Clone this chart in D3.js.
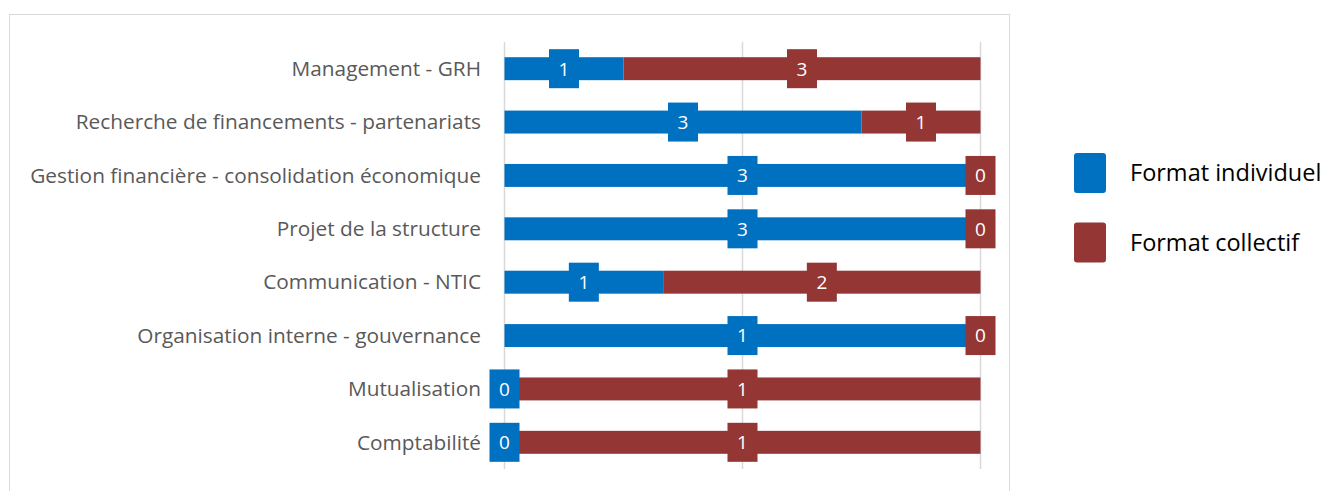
<!DOCTYPE html>
<html>
<head>
<meta charset="utf-8">
<script src="https://cdn.jsdelivr.net/npm/d3@7"></script>
<style>
  body { margin: 0; background: #fff; }
  svg { display: block; }
  text { font-family: "Open Sans", "Noto Sans", sans-serif; }
</style>
</head>
<body>
<svg id="chart" width="1330" height="491"></svg>
<script>
// Data
const categories = [
    "Management - GRH",
    "Recherche de financements - partenariats",
    "Gestion financière - consolidation économique",
    "Projet de la structure",
    "Communication - NTIC",
    "Organisation interne - gouvernance",
    "Mutualisation",
    "Comptabilité"
];
const individuel = [1, 3, 3, 3, 1, 1, 0, 0];
const collectif = [3, 1, 0, 0, 2, 0, 1, 1];
const seriesNames = ["Format individuel", "Format collectif"];
const colors = ["#0070C0", "#943634"];

const svg = d3.select("#chart");

// chart frame
svg.append("rect")
    .attr("x", 9.5).attr("y", 14.5)
    .attr("width", 1000).attr("height", 500)
    .attr("fill", "none")
    .attr("stroke", "#d9d9d9");

const rows = categories.map((c, i) => ({ cat: c, ind: individuel[i], col: collectif[i] }));
const stacked = d3.stack()
    .keys(["ind", "col"])
    .offset(d3.stackOffsetExpand)(rows);

const x = d3.scaleLinear().domain([0, 1]).range([504.5, 980.5]);
const y = d3.scaleBand().domain(categories).range([42, 469]).paddingInner(0.57).paddingOuter(0.285);

// gridlines
const grid = svg.append("g");
grid.selectAll("line").data([0, 0.5, 1]).join("line")
    .attr("x1", d => x(d)).attr("x2", d => x(d))
    .attr("y1", 42).attr("y2", 469)
    .attr("stroke", "#d9d9d9")
    .attr("stroke-width", 1.5);

// category labels
svg.append("g").selectAll("text").data(categories).join("text")
    .attr("x", 481)
    .attr("y", d => y(d) + y.bandwidth() / 2)
    .attr("dy", "0.35em")
    .attr("text-anchor", "end")
    .attr("fill", "#595959")
    .style("font-size", "20.8px")
    .text(d => d);

// bars
const layers = svg.append("g").selectAll("g").data(stacked).join("g")
    .attr("fill", (d, i) => colors[i]);

layers.selectAll("rect").data(d => d).join("rect")
    .attr("x", d => x(d[0]))
    .attr("y", d => y(d.data.cat))
    .attr("width", d => x(d[1]) - x(d[0]))
    .attr("height", y.bandwidth());

// data labels
const boxW = 30, boxH = 39;
stacked.forEach((layer, i) => {
    const g = svg.append("g");
    layer.forEach(d => {
        const cx = x((d[0] + d[1]) / 2);
        const cy = y(d.data.cat) + y.bandwidth() / 2;
        g.append("rect")
            .attr("x", cx - boxW / 2).attr("y", cy - boxH / 2)
            .attr("width", boxW).attr("height", boxH)
            .attr("fill", colors[i]);
        g.append("text")
            .attr("x", cx).attr("y", cy)
            .attr("dy", "0.36em")
            .attr("text-anchor", "middle")
            .attr("fill", "#fff")
            .style("font-size", "19px")
            .text(d.data[layer.key]);
    });
});

// legend
const legend = svg.append("g").selectAll("g").data(seriesNames).join("g")
    .attr("transform", (d, i) => `translate(1074, ${153 + i * 69.5})`);
legend.append("rect")
    .attr("width", 32).attr("height", 40).attr("rx", 3)
    .attr("fill", (d, i) => colors[i]);
legend.append("text")
    .attr("x", 56).attr("y", 20)
    .attr("dy", "0.35em")
    .attr("fill", "#000")
    .style("font-size", "23.5px")
    .text(d => d);
</script>
</body>
</html>
